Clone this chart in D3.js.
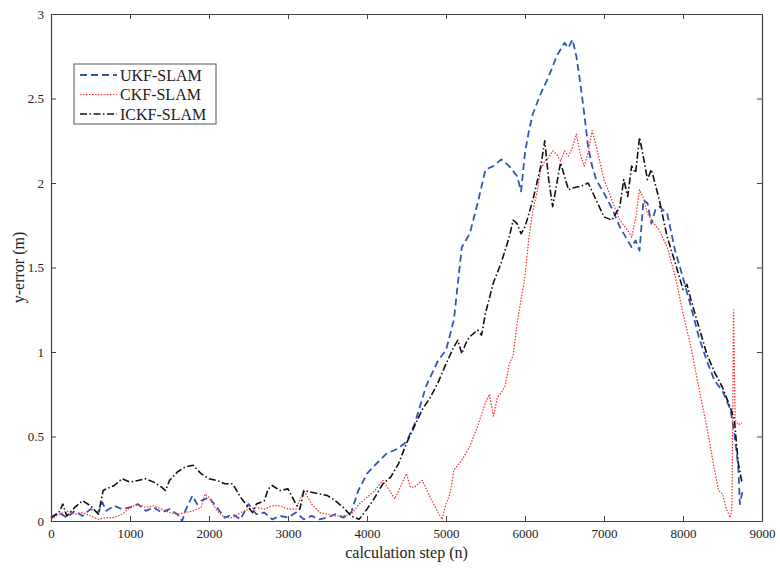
<!DOCTYPE html>
<html>
<head>
<meta charset="utf-8">
<script src="https://cdn.jsdelivr.net/npm/d3@7"></script>
<style>
  body { margin: 0; background: #fff; }
  svg { display: block; }
  text { font-family: 'Liberation Serif', 'Times New Roman', serif; fill: #222; }
</style>
</head>
<body>
<div id="chart"></div>
<script>
// Values (calculation step, error in m)
const ukfSteps = [0, 100, 200, 300, 400, 500, 600, 650, 700, 800, 900, 1000, 1100, 1200, 1300, 1400, 1500, 1600, 1660, 1700, 1790, 1850, 1900, 2000, 2100, 2200, 2300, 2400, 2500, 2600, 2700, 2800, 2900, 3000, 3100, 3200, 3300, 3400, 3500, 3600, 3700, 3800, 3890, 4000, 4100, 4250, 4400, 4500, 4600, 4750, 4900, 5000, 5100, 5200, 5300, 5400, 5500, 5600, 5700, 5800, 5900, 5950, 6000, 6050, 6100, 6200, 6300, 6400, 6500, 6550, 6600, 6650, 6700, 6750, 6800, 6850, 6900, 7000, 7100, 7200, 7300, 7350, 7400, 7450, 7500, 7550, 7600, 7650, 7700, 7800, 7900, 8000, 8100, 8200, 8300, 8400, 8500, 8600, 8650, 8700, 8720, 8750]
const ukfErr = [0.02, 0.05, 0.02, 0.06, 0.03, 0.07, 0.05, 0.11, 0.06, 0.09, 0.07, 0.08, 0.1, 0.06, 0.08, 0.05, 0.07, 0.04, 0.0, 0.06, 0.15, 0.1, 0.12, 0.14, 0.08, 0.02, 0.04, 0.01, 0.1, 0.04, 0.05, 0.01, 0.03, 0.02, 0.05, 0.01, 0.03, 0.01, 0.02, 0.04, 0.02, 0.05, 0.18, 0.28, 0.33, 0.4, 0.43, 0.47, 0.57, 0.8, 0.95, 1.01, 1.19, 1.62, 1.7, 1.88, 2.08, 2.1, 2.14, 2.1, 2.04, 1.95, 2.18, 2.31, 2.41, 2.53, 2.63, 2.75, 2.83, 2.8, 2.85, 2.75, 2.59, 2.41, 2.21, 2.1, 2.02, 1.94, 1.85, 1.74, 1.66, 1.62, 1.66, 1.6, 1.9, 1.88, 1.76, 1.84, 1.86, 1.82, 1.6, 1.44, 1.27, 1.09, 0.95, 0.83, 0.77, 0.66, 0.52, 0.32, 0.1, 0.17]

const ckfSteps = [0, 100, 200, 300, 400, 500, 600, 700, 800, 900, 1000, 1100, 1200, 1300, 1400, 1500, 1600, 1700, 1800, 1900, 1950, 2000, 2100, 2200, 2300, 2400, 2500, 2600, 2700, 2800, 2900, 3000, 3100, 3200, 3300, 3400, 3500, 3600, 3700, 3800, 3900, 4000, 4100, 4200, 4300, 4350, 4400, 4500, 4550, 4600, 4700, 4800, 4900, 4950, 5000, 5050, 5100, 5200, 5300, 5400, 5500, 5550, 5600, 5650, 5700, 5750, 5800, 5850, 5900, 6000, 6050, 6100, 6150, 6200, 6250, 6300, 6350, 6400, 6450, 6500, 6550, 6600, 6650, 6700, 6750, 6800, 6850, 6900, 7000, 7100, 7200, 7300, 7350, 7400, 7450, 7500, 7550, 7600, 7700, 7800, 7900, 8000, 8100, 8200, 8300, 8400, 8450, 8500, 8550, 8600, 8620, 8640, 8660, 8700, 8750]
const ckfErr = [0.01, 0.04, 0.06, 0.04, 0.05, 0.03, 0.01, 0.02, 0.02, 0.04, 0.08, 0.1, 0.08, 0.09, 0.07, 0.05, 0.04, 0.05, 0.06, 0.08, 0.16, 0.14, 0.06, 0.02, 0.02, 0.05, 0.07, 0.08, 0.07, 0.09, 0.09, 0.07, 0.07, 0.18, 0.1, 0.05, 0.04, 0.03, 0.03, 0.04, 0.1, 0.14, 0.18, 0.24, 0.17, 0.13, 0.18, 0.28, 0.2, 0.2, 0.24, 0.14, 0.05, 0.01, 0.1, 0.16, 0.3, 0.36, 0.44, 0.56, 0.7, 0.75, 0.62, 0.73, 0.76, 0.8, 0.93, 0.98, 1.17, 1.45, 1.68, 1.84, 1.94, 2.08, 2.13, 2.15, 2.19, 2.17, 2.13, 2.19, 2.16, 2.21, 2.29, 2.17, 2.1, 2.18, 2.31, 2.22, 2.02, 1.9, 1.78, 1.72, 1.68, 1.79, 1.96, 1.91, 1.82, 1.78, 1.72, 1.62, 1.45, 1.23, 1.03, 0.79, 0.56, 0.3, 0.18, 0.16, 0.07, 0.02, 0.1, 1.25, 0.6, 0.57, 0.58]

const ickfSteps = [0, 100, 150, 200, 300, 400, 500, 600, 660, 700, 800, 900, 1000, 1100, 1200, 1300, 1400, 1450, 1500, 1600, 1700, 1800, 1900, 2000, 2100, 2200, 2300, 2400, 2500, 2550, 2600, 2700, 2750, 2800, 2900, 3000, 3100, 3150, 3200, 3300, 3400, 3500, 3600, 3700, 3800, 3900, 4000, 4100, 4200, 4300, 4400, 4500, 4600, 4700, 4800, 4900, 5000, 5100, 5150, 5200, 5250, 5300, 5400, 5450, 5500, 5600, 5700, 5800, 5850, 5900, 5950, 6000, 6100, 6200, 6250, 6300, 6350, 6400, 6450, 6500, 6550, 6600, 6700, 6800, 6900, 7000, 7100, 7200, 7250, 7300, 7350, 7400, 7450, 7500, 7550, 7600, 7700, 7800, 7900, 8000, 8050, 8100, 8200, 8300, 8400, 8500, 8600, 8650, 8700, 8750]
const ickfErr = [0.02, 0.05, 0.1, 0.03, 0.08, 0.12, 0.09, 0.04, 0.18, 0.19, 0.21, 0.25, 0.23, 0.24, 0.25, 0.23, 0.2, 0.18, 0.24, 0.29, 0.32, 0.33, 0.28, 0.25, 0.24, 0.22, 0.22, 0.14, 0.08, 0.05, 0.1, 0.12, 0.19, 0.21, 0.18, 0.19, 0.1, 0.07, 0.18, 0.17, 0.16, 0.15, 0.12, 0.08, 0.03, 0.01, 0.07, 0.14, 0.22, 0.26, 0.34, 0.46, 0.56, 0.66, 0.73, 0.82, 0.93, 1.03, 1.07, 0.99, 1.05, 1.09, 1.13, 1.1, 1.23, 1.41, 1.53, 1.68, 1.78, 1.76, 1.7, 1.74, 1.9, 2.1, 2.25, 2.02, 1.86, 1.99, 2.12, 2.04, 1.96, 1.97, 1.98, 2.0, 1.9, 1.8, 1.78, 1.86, 2.02, 1.92, 2.1, 2.06, 2.27, 2.15, 2.02, 2.08, 1.9, 1.68, 1.53, 1.37, 1.4, 1.31, 1.15, 0.99, 0.88, 0.79, 0.67, 0.6, 0.34, 0.22]

const xTicks = [0, 1000, 2000, 3000, 4000, 5000, 6000, 7000, 8000, 9000]
const yTicks = [0, 0.5, 1, 1.5, 2, 2.5, 3]
const seriesNames = ['UKF-SLAM', 'CKF-SLAM', 'ICKF-SLAM']

const width = 780
const height = 568
const margin = { top: 14, right: 18, bottom: 47, left: 51 }
const innerW = width - margin.left - margin.right
const innerH = height - margin.top - margin.bottom

const series = [
  { name: seriesNames[0], steps: ukfSteps, vals: ukfErr, color: '#2f56b8', width: 1.8, dash: '7,4' },
  { name: seriesNames[1], steps: ckfSteps, vals: ckfErr, color: '#ff2a2a', width: 1.2, dash: '1.5,1.5' },
  { name: seriesNames[2], steps: ickfSteps, vals: ickfErr, color: '#111111', width: 1.6, dash: '7,2.5,1.5,2.5' }
]

const svg = d3.select('#chart')
  .append('svg')
  .attr('width', width)
  .attr('height', height)

const g = svg.append('g')
  .attr('transform', 'translate(' + margin.left + ',' + margin.top + ')')

const x = d3.scaleLinear().domain([0, 9000]).range([0, innerW])
const y = d3.scaleLinear().domain([0, 3]).range([innerH, 0])

// Lines
const line = d3.line()
  .x(function (d) { return x(d[0]) })
  .y(function (d) { return y(d[1]) })

g.append('g')
  .selectAll('path')
  .data(series)
  .enter()
  .append('path')
  .attr('fill', 'none')
  .attr('stroke', (d) => d.color)
  .attr('stroke-width', (d) => d.width)
  .attr('stroke-dasharray', (d) => d.dash)
  .attr('stroke-linejoin', 'round')
  .attr('d', (d) => line(d3.zip(d.steps, d.vals)))

// Axes, ticks pointing inside like the original
const axisColor = '#444'
const xAxis = g.append('g')
  .attr('transform', 'translate(0,' + innerH + ')')
  .call(d3.axisBottom(x).tickValues(xTicks).tickSizeInner(-5).tickSizeOuter(0).tickPadding(8).tickFormat(d3.format('d')))
const yAxis = g.append('g')
  .call(d3.axisLeft(y).tickValues(yTicks).tickSizeInner(-5).tickSizeOuter(0).tickPadding(7).tickFormat((d) => String(d)))
const xTop = g.append('g')
  .call(d3.axisTop(x).tickValues(xTicks).tickSizeInner(-5).tickSizeOuter(0).tickFormat(''))
const yRight = g.append('g')
  .attr('transform', 'translate(' + innerW + ',0)')
  .call(d3.axisRight(y).tickValues(yTicks).tickSizeInner(-5).tickSizeOuter(0).tickFormat(''))

for (const ax of [xAxis, yAxis, xTop, yRight]) {
  ax.select('.domain').attr('stroke', axisColor).attr('stroke-width', 1.2)
  ax.selectAll('.tick line').attr('stroke', axisColor)
  ax.selectAll('.tick text')
    .style('font-family', "'Liberation Serif', serif")
    .style('font-size', '13px')
    .attr('fill', '#222')
}

// Axis titles
svg.append('text')
  .attr('x', margin.left + innerW / 2)
  .attr('y', height - 10)
  .attr('text-anchor', 'middle')
  .style('font-size', '16px')
  .text('calculation step (n)')

svg.append('text')
  .attr('transform', 'translate(24,' + (margin.top + innerH / 2) + ') rotate(-90)')
  .attr('text-anchor', 'middle')
  .style('font-size', '16px')
  .text('y-error (m)')

// Legend
const legend = svg.append('g').attr('transform', 'translate(74,64)')
legend.append('rect')
  .attr('width', 142)
  .attr('height', 60)
  .attr('fill', '#fff')
  .attr('stroke', '#555')
  .attr('stroke-width', 1)

const item = legend.selectAll('g.item')
  .data(series)
  .enter()
  .append('g')
  .attr('class', 'item')
  .attr('transform', (d, i) => 'translate(0,' + (11 + i * 19.5) + ')')

item.append('line')
  .attr('x1', 6)
  .attr('x2', 43)
  .attr('stroke', (d) => d.color)
  .attr('stroke-width', (d) => d.width)
  .attr('stroke-dasharray', (d) => d.dash)

item.append('text')
  .attr('x', 46)
  .attr('dy', '0.35em')
  .style('font-size', '16px')
  .text((d) => d.name)
</script>
</body>
</html>
